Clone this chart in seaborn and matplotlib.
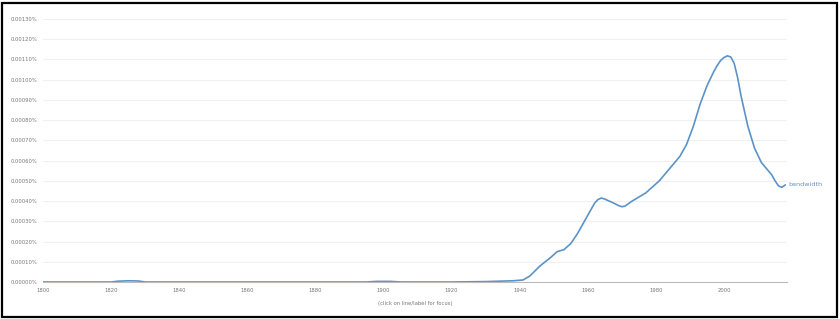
import matplotlib
matplotlib.use("Agg")
import matplotlib.pyplot as plt
import seaborn as sns
import pandas as pd
from matplotlib.patches import Rectangle
from matplotlib.ticker import FuncFormatter

years = [1800, 1810, 1820, 1822, 1825, 1828, 1830, 1840, 1860, 1880, 1895, 1898,
         1902, 1905, 1920, 1930, 1938, 1941, 1943, 1946, 1949, 1951, 1953, 1955,
         1957, 1959, 1961, 1962, 1963, 1964, 1965, 1966, 1967, 1969, 1970, 1971,
         1973, 1975, 1977, 1979, 1981, 1983, 1985, 1987, 1989, 1991, 1993, 1995,
         1997, 1998, 1999, 2000, 2001, 2002, 2003, 2004, 2005, 2007, 2009, 2011,
         2013, 2014, 2015, 2016, 2017, 2018]
bandwidth = [0.0, 0.0, 0.0, 0.000004, 0.000006, 0.000005, 0.0, 0.0, 0.0, 0.0, 0.0, 0.000003,
             0.000003, 0.0, 0.0, 0.000002, 0.000006, 0.00001, 0.00003, 0.00008, 0.00012, 0.00015,
             0.00016, 0.00019, 0.00024, 0.00030, 0.00036, 0.00039, 0.000408, 0.000415, 0.00041,
             0.000402, 0.000395, 0.000378, 0.000372, 0.000376, 0.00040, 0.00042, 0.00044, 0.00047,
             0.00050, 0.00054, 0.00058, 0.00062, 0.00068, 0.00077, 0.00088, 0.00097, 0.00104,
             0.00107, 0.001095, 0.00111, 0.001118, 0.001112, 0.00108, 0.00101, 0.00092, 0.00077,
             0.00066, 0.00059, 0.00055, 0.00053, 0.00050, 0.000475, 0.000468, 0.00048]
series_name = "bandwidth"
x_ticks = [1800, 1820, 1840, 1860, 1880, 1900, 1920, 1940, 1960, 1980, 2000]
y_ticks = [i * 0.0001 for i in range(14)]

df = pd.DataFrame({"year": years, "value": bandwidth})

sns.set_style("white")
plt.rcParams["font.family"] = ["DejaVu Sans"]

fig = plt.figure(figsize=(8.4, 3.19), dpi=100)
ax = fig.add_axes([43 / 840, 37 / 319, 744 / 840, 263 / 319])

line_color = "#5b93c9"
sns.lineplot(data=df, x="year", y="value", ax=ax, color=line_color, linewidth=1.2)

ax.set_xlim(1800, 2018.5)
ax.set_ylim(0, 0.0013)
ax.set_xticks(x_ticks)
ax.set_yticks(y_ticks)
ax.yaxis.set_major_formatter(FuncFormatter(lambda v, p: f"{v:.5f}%"))
ax.tick_params(axis="both", labelsize=3.8, colors="#999999", labelcolor="#777777",
               length=2.5, width=0.6, pad=1.5)
ax.grid(axis="y", color="#f0f0f0", linewidth=0.8)
ax.grid(axis="x", visible=False)
for s in ["top", "right", "left"]:
    ax.spines[s].set_visible(False)
ax.spines["bottom"].set_color("#bbbbbb")
ax.spines["bottom"].set_linewidth(0.8)
ax.set_xlabel("(click on line/label for focus)", fontsize=3.8, color="#777777", labelpad=6)
ax.set_ylabel("")

ax.text(years[-1] + 0.8, bandwidth[-1], series_name, fontsize=4.6, color="#6a8fc4",
        va="center", ha="left", clip_on=False)

fig.patches.append(Rectangle((2 / 840, 2 / 319), 835 / 840, 314 / 319, transform=fig.transFigure,
                             fill=False, edgecolor="black", linewidth=1.6))

fig.savefig("out.png", dpi=100)
